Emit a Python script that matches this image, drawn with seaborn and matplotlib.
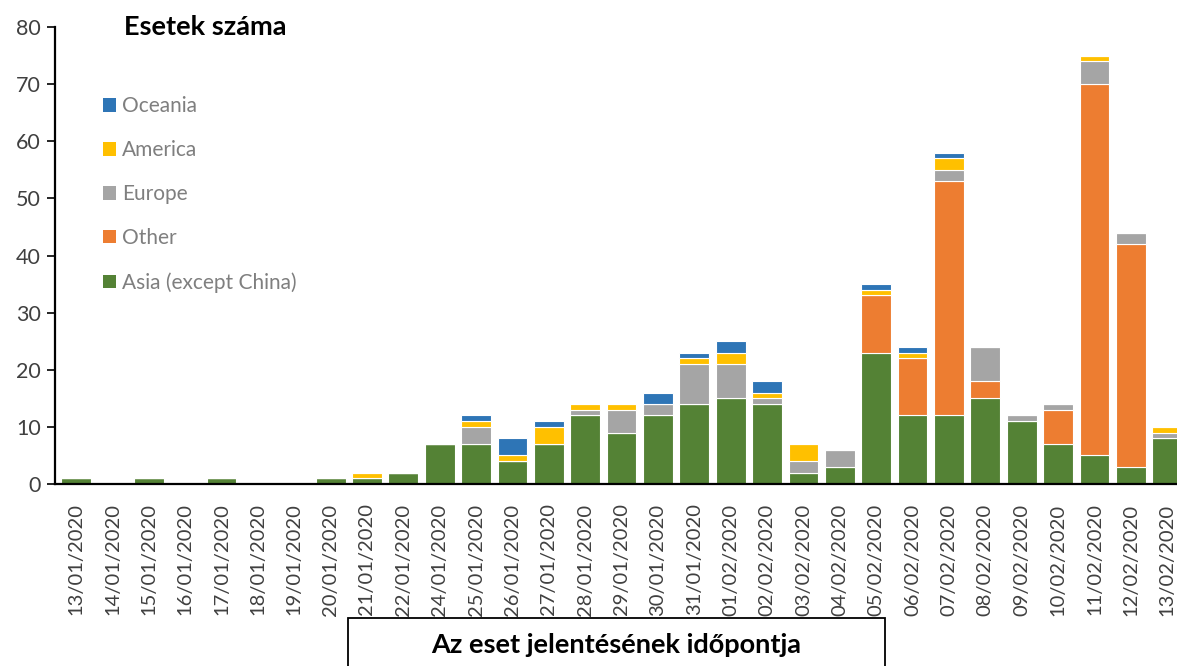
import matplotlib
matplotlib.use("Agg")
import matplotlib.pyplot as plt
from matplotlib.patches import Rectangle, Patch
import numpy as np
import pandas as pd
import seaborn as sns

dates = ["13/01/2020", "14/01/2020", "15/01/2020", "16/01/2020", "17/01/2020",
         "18/01/2020", "19/01/2020", "20/01/2020", "21/01/2020", "22/01/2020",
         "24/01/2020", "25/01/2020", "26/01/2020", "27/01/2020", "28/01/2020",
         "29/01/2020", "30/01/2020", "31/01/2020", "01/02/2020", "02/02/2020",
         "03/02/2020", "04/02/2020", "05/02/2020", "06/02/2020", "07/02/2020",
         "08/02/2020", "09/02/2020", "10/02/2020", "11/02/2020", "12/02/2020",
         "13/02/2020"]
asia    = [1, 0, 1, 0, 1, 0, 0, 1, 1, 2, 7, 7, 4, 7, 12, 9, 12, 14, 15, 14, 2, 3, 23, 12, 12, 15, 11, 7, 5, 3, 8]
other   = [0, 0, 0, 0, 0, 0, 0, 0, 0, 0, 0, 0, 0, 0, 0, 0, 0, 0, 0, 0, 0, 0, 10, 10, 41, 3, 0, 6, 65, 39, 0]
europe  = [0, 0, 0, 0, 0, 0, 0, 0, 0, 0, 0, 3, 0, 0, 1, 4, 2, 7, 6, 1, 2, 3, 0, 0, 2, 6, 1, 1, 4, 2, 1]
america = [0, 0, 0, 0, 0, 0, 0, 0, 1, 0, 0, 1, 1, 3, 1, 1, 0, 1, 2, 1, 3, 0, 1, 1, 2, 0, 0, 0, 1, 0, 1]
oceania = [0, 0, 0, 0, 0, 0, 0, 0, 0, 0, 0, 1, 3, 1, 0, 0, 2, 1, 2, 2, 0, 0, 1, 1, 1, 0, 0, 0, 0, 0, 0]

series_names = ["Asia (except China)", "Other", "Europe", "America", "Oceania"]
series_vals = [asia, other, europe, america, oceania]
colors = {"Asia (except China)": "#548235", "Other": "#ED7D31", "Europe": "#A5A5A5",
          "America": "#FFC000", "Oceania": "#2E75B6"}

sns.set_theme(style="white")
plt.rcParams['font.family'] = ['Lato', 'DejaVu Sans']

fig = plt.figure(figsize=(11.77, 6.66), dpi=100)
ax = fig.add_axes([55/1177, 1 - 484/666, 1134/1177, (484 - 27)/666])

bottom = np.zeros(len(dates))
for name, vals in zip(series_names, series_vals):
    df = pd.DataFrame({"date": dates, "v": vals})
    sns.barplot(data=df, x="date", y="v", order=dates, color=colors[name],
                bottom=bottom.copy(), width=0.82, edgecolor="white", linewidth=0.8,
                saturation=1, ax=ax, errorbar=None)
    bottom += np.array(vals)

ax.set_xlim(-0.577, 30.6)
ax.set_ylim(0, 80)
ax.set_yticks(range(0, 81, 10))
ax.set_xlabel("")
ax.set_ylabel("")
for s in ["top", "right"]:
    ax.spines[s].set_visible(False)
for s in ["left", "bottom"]:
    ax.spines[s].set_color("black")
    ax.spines[s].set_linewidth(1.6)
ax.spines["bottom"].set_zorder(5)
ax.tick_params(axis="y", which="major", left=True, length=6, width=1.2, color="black",
               labelsize=15.5, labelcolor="#404040", pad=4)
ax.tick_params(axis="x", bottom=False, labelsize=14.5, labelcolor="#404040", pad=8)
plt.setp(ax.get_xticklabels(), rotation=90)

handles = [Patch(facecolor=colors[n], edgecolor="none") for n in reversed(series_names)]
leg = ax.legend(handles, list(reversed(series_names)), loc="upper left",
                bbox_to_anchor=(40/1134, 1 - (88 - 27)/457), frameon=False,
                fontsize=15, labelcolor="#7F7F7F", handlelength=0.6, handleheight=0.6,
                handletextpad=0.3, labelspacing=1.15, borderaxespad=0)

fig.text(124/1177, 1 - 27/666, "Esetek száma", fontsize=19.5, fontweight="bold",
         color="black", ha="left", va="center")

fig.patches.append(Rectangle((348/1177, -0.05), (885 - 348)/1177, 0.05 + (666 - 618)/666,
                             transform=fig.transFigure, fill=False, edgecolor="black",
                             linewidth=1.3, figure=fig))
fig.text(616/1177, 1 - 645/666, "Az eset jelentésének időpontja", fontsize=19.5,
         fontweight="bold", color="black", ha="center", va="center")

fig.savefig("out.png", dpi=100)
